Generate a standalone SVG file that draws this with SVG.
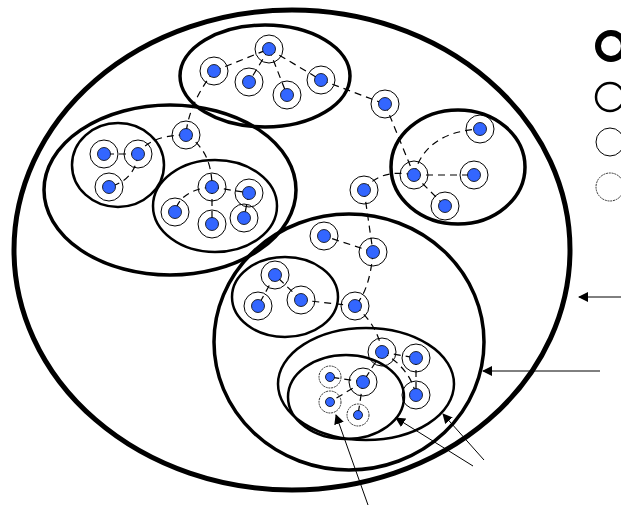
<svg xmlns="http://www.w3.org/2000/svg" width="621" height="506" viewBox="0 0 621 506">
<defs>
<style>
.c{fill:none;stroke:#000}
.e{fill:none;stroke:#000;stroke-width:1.2;stroke-dasharray:7,5}
.ring{fill:none;stroke:#000;stroke-width:1}
.sring{fill:none;stroke:#333;stroke-width:1;stroke-dasharray:2,0.8}
.dot{fill:#3366ff;stroke:#000;stroke-width:0.8}
.a{stroke:#000;stroke-width:1;fill:none}
</style>
<marker id="ah" viewBox="0 0 10 10" refX="9" refY="5" markerWidth="10" markerHeight="10" markerUnits="userSpaceOnUse" orient="auto">
<path d="M0,0 L10,5 L0,10 z" fill="#000"/>
</marker>
<g id="n"><circle class="ring" r="14"/><circle class="dot" r="6.5"/></g>
<g id="s"><circle class="sring" r="11"/><circle class="dot" r="4.5"/></g>
</defs>
<rect width="621" height="506" fill="#fff"/>
<g id="clusters">
<ellipse id="outer" class="c" cx="292" cy="250" rx="278" ry="240" stroke-width="5"/>
<ellipse id="top" class="c" cx="265" cy="76" rx="85" ry="51" stroke-width="3.5"/>
<ellipse id="left" class="c" cx="170" cy="190" rx="126" ry="85" stroke-width="3.5"/>
<ellipse id="left-a" class="c" cx="118" cy="165" rx="46" ry="42" stroke-width="2.5"/>
<ellipse id="left-b" class="c" cx="215" cy="206" rx="62" ry="46" stroke-width="2.5"/>
<ellipse id="right" class="c" cx="458" cy="167" rx="67" ry="57" stroke-width="3.5"/>
<ellipse id="bottom" class="c" cx="349" cy="342" rx="135" ry="128" stroke-width="3.5"/>
<ellipse id="bottom-a" class="c" cx="285" cy="297" rx="53" ry="40" stroke-width="2.5"/>
<ellipse id="bottom-b" class="c" cx="366" cy="384" rx="88" ry="56" stroke-width="2.5"/>
<ellipse id="bottom-c" class="c" cx="346" cy="397" rx="58" ry="42" stroke-width="2.5"/>
</g>
<g id="connectors">
<path class="e" d="M214,71 L269,49"/>
<path class="e" d="M269,49 L249,82"/>
<path class="e" d="M269,49 L287,95"/>
<path class="e" d="M269,49 L321,80"/>
<path class="e" d="M321,80 L385,104"/>
<path class="e" d="M214,71 Q188,105 186,135"/>
<path class="e" d="M385,104 L414,175"/>
<path class="e" d="M414,175 L474,175"/>
<path class="e" d="M414,175 L445,206"/>
<path class="e" d="M414,175 Q425,132 480,129"/>
<path class="e" d="M364,190 Q380,168 414,175"/>
<path class="e" d="M364,190 L373,252"/>
<path class="e" d="M373,252 L324,236"/>
<path class="e" d="M373,252 Q370,290 355,306"/>
<path class="e" d="M355,306 L301,300"/>
<path class="e" d="M301,300 L275,275"/>
<path class="e" d="M275,275 L258,306"/>
<path class="e" d="M355,306 Q378,325 382,352"/>
<path class="e" d="M382,352 L416,358"/>
<path class="e" d="M382,352 L363,382"/>
<path class="e" d="M382,352 Q410,368 416,395"/>
<path class="e" d="M416,358 L416,395"/>
<path class="e" d="M363,382 L330,377"/>
<path class="e" d="M363,382 L330,402"/>
<path class="e" d="M363,382 L358,415"/>
<path class="e" d="M186,135 Q150,135 138,154"/>
<path class="e" d="M138,154 L104,154"/>
<path class="e" d="M138,154 Q135,180 109,187"/>
<path class="e" d="M186,135 Q212,150 212,187"/>
<path class="e" d="M212,187 Q180,190 175,212"/>
<path class="e" d="M212,187 L249,193"/>
<path class="e" d="M212,187 L212,224"/>
<path class="e" d="M249,193 L244,218"/>
</g>
<g id="nodes">
<use id="n1" href="#n" x="269" y="49"/>
<use id="n2" href="#n" x="214" y="71"/>
<use id="n3" href="#n" x="249" y="82"/>
<use id="n4" href="#n" x="287" y="95"/>
<use id="n5" href="#n" x="321" y="80"/>
<use id="n6" href="#n" x="385" y="104"/>
<use id="n7" href="#n" x="480" y="129"/>
<use id="n8" href="#n" x="414" y="175"/>
<use id="n9" href="#n" x="474" y="175"/>
<use id="n10" href="#n" x="445" y="206"/>
<use id="n11" href="#n" x="364" y="190"/>
<use id="n12" href="#n" x="186" y="135"/>
<use id="n13" href="#n" x="104" y="154"/>
<use id="n14" href="#n" x="138" y="154"/>
<use id="n15" href="#n" x="109" y="187"/>
<use id="n16" href="#n" x="212" y="187"/>
<use id="n17" href="#n" x="249" y="193"/>
<use id="n18" href="#n" x="175" y="212"/>
<use id="n19" href="#n" x="212" y="224"/>
<use id="n20" href="#n" x="244" y="218"/>
<use id="n21" href="#n" x="324" y="236"/>
<use id="n22" href="#n" x="373" y="252"/>
<use id="n23" href="#n" x="275" y="275"/>
<use id="n24" href="#n" x="301" y="300"/>
<use id="n25" href="#n" x="258" y="306"/>
<use id="n26" href="#n" x="355" y="306"/>
<use id="n27" href="#n" x="382" y="352"/>
<use id="n28" href="#n" x="416" y="358"/>
<use id="n29" href="#n" x="363" y="382"/>
<use id="n30" href="#n" x="416" y="395"/>
<use id="n31" href="#s" x="330" y="377"/>
<use id="n32" href="#s" x="330" y="402"/>
<use id="n33" href="#s" x="358" y="415"/>
</g>
<g id="legend">
<circle cx="611" cy="46" r="13" fill="none" stroke="#000" stroke-width="6"/>
<circle cx="610" cy="97" r="14" fill="none" stroke="#000" stroke-width="2.5"/>
<circle cx="610" cy="142" r="14" fill="none" stroke="#000" stroke-width="1"/>
<circle cx="610" cy="187" r="14" fill="none" stroke="#333" stroke-width="1" stroke-dasharray="2,0.8"/>
</g>
<g id="arrows">
<line class="a" x1="621" y1="297" x2="579" y2="297" stroke="#666" stroke-width="1.5" marker-end="url(#ah)"/>
<line class="a" x1="600" y1="371" x2="483" y2="371" marker-end="url(#ah)"/>
<line class="a" x1="368" y1="505" x2="336" y2="415" marker-end="url(#ah)"/>
<line class="a" x1="473" y1="466" x2="396" y2="418" marker-end="url(#ah)"/>
<line class="a" x1="484" y1="460" x2="443" y2="414" marker-end="url(#ah)"/>
</g>
</svg>
